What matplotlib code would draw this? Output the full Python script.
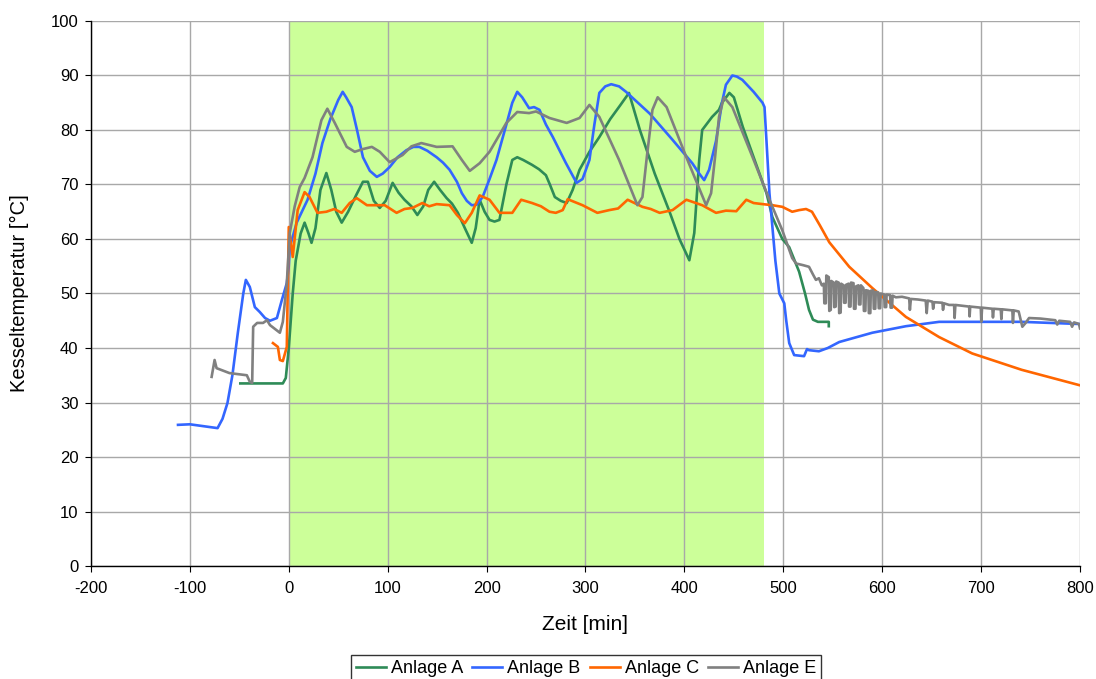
import matplotlib.pyplot as plt

plt.rcParams['font.family'] = ['Liberation Sans', 'DejaVu Sans']
plt.rcParams['axes.unicode_minus'] = False

# Anlage A (green)
a_x = [-49, -6, -3, 0, 4, 7, 12, 16, 20, 23, 27, 32, 38, 43, 48, 53.5, 60, 68, 75, 80, 86, 92, 98,
       105, 111, 117, 124, 130, 136, 141, 147, 153, 159.6, 165, 171, 178, 185, 189, 193, 198, 203,
       208, 213, 220, 226, 231, 237, 246, 253, 260, 264, 269, 275, 281, 287, 294, 304, 314, 325,
       335, 344, 355, 370, 385, 395, 405, 410, 415, 418, 428, 435, 438, 445.5, 450, 459, 470, 483,
       489, 499, 506, 516, 522, 526, 530, 535, 546, 546]
a_y = [33.5, 33.5, 34.5, 40, 50, 56, 61, 63, 61, 59.3, 62, 69, 72.1, 69, 65, 63, 65, 68, 70.5,
       70.5, 67, 65.7, 67, 70.3, 68.5, 67.2, 66, 64.4, 66, 69, 70.5, 69, 67.5, 66.5, 64.8, 62, 59.3,
       62, 67.2, 65, 63.5, 63.2, 63.5, 70, 74.5, 75, 74.5, 73.6, 72.8, 71.7, 70, 67.7, 67, 66.6, 69,
       72.7, 76, 78.7, 82, 84.5, 86.8, 80, 72, 65, 60, 56.1, 61.1, 74.5, 80, 82.4, 83.7, 85, 86.8,
       86, 80.6, 75, 68.4, 64, 60, 58.5, 54, 50, 47, 45.2, 44.8, 44.8, 44]

# Anlage B (blue)
b_x = [-112, -100, -72, -67, -62, -57, -51.5, -46, -43.4, -39.4, -34.3, -29.3, -24, -19, -12, -7,
       -2, 0, 1, 8, 19, 27, 34, 42, 50, 54.5, 58, 63.6, 69, 75, 82, 89, 95, 102, 110, 119, 126, 132,
       140, 149.5, 156, 162.6, 170, 175, 180, 185, 190, 196, 203, 210, 220, 226, 231, 236, 243, 248,
       253.5, 260, 267, 280, 291, 297, 304, 309, 314, 320, 326, 334, 341, 350, 365, 388, 408, 415,
       420, 425, 432, 438, 442, 448.5, 453, 458.6, 470, 479, 481, 483, 486, 489, 492, 496, 501, 503,
       506, 511, 521, 524, 526, 536, 545, 556.6, 590, 624, 657.6, 691, 741, 800]
b_y = [25.9, 26, 25.3, 27, 29.9, 35, 42.8, 50, 52.5, 51.2, 47.5, 46.6, 45.5, 45, 45.5, 48.8, 51.9,
       55, 58.5, 63, 67.2, 72, 77.6, 82, 85.5, 87, 86, 84.2, 80, 75, 72.5, 71.4, 72, 73.2, 75, 76.3,
       76.9, 76.9, 76.2, 75, 74, 72.7, 70.5, 68.4, 67, 66.2, 66.3, 67.7, 71, 74.5, 81, 85, 87, 86,
       84, 84.2, 83.7, 81, 78.7, 74, 70.3, 71, 74.5, 81, 86.8, 88, 88.4, 88, 87, 85.5, 83, 78.2, 73.9,
       72, 70.8, 72.7, 78, 85, 88.3, 90, 89.8, 89.2, 87, 85, 84.2, 78, 68.4, 62.2, 56, 50, 48.2, 45,
       40.9, 38.7, 38.5, 39.8, 39.6, 39.4, 40, 41.1, 42.8, 44, 44.8, 44.8, 44.8, 44.4]

# Anlage C (orange)
c_x = [-16, -11, -9, -6, -2, 0, 4, 9, 16, 21, 29, 38, 46, 53.5, 61.6, 68.7, 79, 89, 97, 109, 117,
       125, 135, 142, 149.5, 162.6, 170, 178, 185, 193, 203, 213, 226, 235, 246, 255, 263.6, 270, 277,
       282, 297, 312, 324, 333, 342.6, 357.6, 366, 375, 388, 402, 418, 432, 442, 452.5, 462.6, 470,
       479, 489, 499, 509, 516, 523, 529, 537, 546.5, 566.7, 590, 624, 657.6, 691, 741, 799]
c_y = [40.9, 40.2, 37.8, 37.6, 40.2, 62.2, 56.7, 65.3, 68.6, 67.7, 64.8, 65, 65.5, 64.8, 66.6, 67.5,
       66.2, 66.2, 66.2, 64.8, 65.5, 65.7, 66.6, 66, 66.4, 66.2, 64.4, 62.9, 64.8, 68, 67.2, 64.8,
       64.8, 67.2, 66.6, 66, 65, 64.8, 65.3, 67.3, 66.2, 64.8, 65.3, 65.6, 67.2, 65.9, 65.5, 64.8,
       65.3, 67.2, 66.2, 64.8, 65.2, 65.1, 67.2, 66.6, 66.4, 66.2, 65.9, 65, 65.3, 65.5, 65, 62.5,
       59.4, 54.9, 51, 45.7, 42, 39, 36, 33.2]

# Anlage E (grey) as (time, temperature) pairs
e_pts = [(-78, 34.7), (-75, 37.8), (-73, 36.3), (-60, 35.4), (-42.4, 35), (-39.4, 33.8),
         (-37, 33.6), (-36, 43.9), (-32, 44.6), (-26, 44.6), (-22, 45.1), (-19, 44.2), (-9, 42.8),
         (-6, 44.8), (-2, 51.9), (1, 61.1), (6, 66), (11, 69.5), (16, 71.2), (24, 75), (33, 81.8),
         (39, 83.9), (46.5, 81.3), (58.6, 76.9), (66.7, 76), (75, 76.5), (84, 76.9), (92, 76),
         (102, 74.1), (115, 75.4), (124, 77), (134, 77.6), (149.5, 76.9), (165.6, 77), (175, 74.5),
         (183, 72.5), (193, 73.9), (203, 76), (220, 81.3), (231, 83.3), (243, 83.1), (250, 83.4),
         (263.6, 82.2), (281, 81.3), (294, 82.2), (304, 84.6), (314, 82.4), (334, 74.5),
         (352.5, 66.2), (357.6, 67.7), (362, 75), (367.7, 83.7), (373, 86), (382, 84.2), (402, 75),
         (422, 66.2), (427, 68.4), (431, 75), (435, 82.4), (440, 86), (448.5, 84.2), (469, 75),
         (486, 67.2), (499, 61.6), (509, 56.5), (513, 55.5), (520, 55.2), (526, 54.9),
         (530, 53.5), (533, 52.5), (536, 52.8), (539, 51.5), (541, 51.8), (541.5, 48.2),
         (543, 48.2), (543.5, 53.3), (546, 53), (546.5, 46.8), (548, 47), (548.5, 52.3),
         (551, 52), (551.5, 47.5), (553, 47.6), (553.5, 52.2), (556, 52), (556.5, 46.4),
         (558, 46.5), (558.5, 51.8), (561, 51.5), (561.5, 48.3), (563, 48.3), (563.5, 51.6),
         (566, 51.8), (566.5, 47.6), (568, 47.6), (568.5, 52), (571, 51.9), (571.5, 47.2),
         (573, 47.2), (573.5, 51.3), (576, 51.5), (576.5, 48), (578, 48), (578.5, 51.5),
         (581, 51), (581.5, 46.8), (583, 46.8), (583.5, 50.6), (586, 50.5), (586.5, 46.4),
         (588, 46.4), (588.5, 50.5), (591, 50.6), (591.5, 47.2), (593, 47.2), (593.5, 50.3),
         (596, 50.2), (596.5, 47.3), (598, 47.3), (598.5, 50), (602, 49.8), (602.5, 47.5),
         (604, 47.5), (604.5, 49.8), (608, 49.7), (608.5, 47.4), (610, 47.4), (610.5, 49.6),
         (613.8, 49.3), (620, 49.4),
         (627.3, 49.1), (628, 47), (629, 49), (636, 48.9), (644, 48.7), (645, 46.4), (646, 48.7),
         (650.8, 48.5), (651.5, 47.2), (652.5, 48.4), (660.9, 48.3), (661.5, 47), (662.5, 48.2),
         (667.7, 47.9), (672.7, 47.9), (673.2, 45.5), (674, 47.9), (687.9, 47.6), (688.4, 45.8),
         (689, 47.6), (699.7, 47.4), (700.2, 44.8), (701, 47.4), (711.4, 47.2), (712, 45.6),
         (712.8, 47.2), (719.9, 47.1), (720.5, 45.3), (721.2, 47.1), (731.6, 46.9), (732.2, 44.6),
         (733, 46.9), (738, 46.7), (741.7, 43.9), (745, 44.6), (748.5, 45.5), (760, 45.4),
         (775, 45.1), (777, 44.3), (779, 45), (790, 44.8), (792, 43.9), (794, 44.7), (799, 44.4),
         (800, 43.6)]
e_x = [p[0] for p in e_pts]
e_y = [p[1] for p in e_pts]

fig = plt.figure(figsize=(10.96, 6.79), dpi=100)
ax = fig.add_axes([0.083, 0.1664, 0.9024, 0.8027])

ax.axvspan(0, 480, color='#CCFF99', zorder=0, lw=0)

lw = 1.9
ax.plot(a_x, a_y, color='#2E8B57', lw=lw, label='Anlage A', zorder=3)
ax.plot(b_x, b_y, color='#3366FF', lw=lw, label='Anlage B', zorder=3)
ax.plot(c_x, c_y, color='#FF6600', lw=lw, label='Anlage C', zorder=3)
ax.plot(e_x, e_y, color='#808080', lw=lw, label='Anlage E', zorder=3)

ax.set_xlim(-200, 800)
ax.set_ylim(0, 100)
ax.set_xticks(range(-200, 801, 100))
ax.set_yticks(range(0, 101, 10))
ax.grid(True, color='#A8A8A8', lw=1.0, zorder=1)
ax.set_axisbelow(True)

for s in ['top', 'right']:
    ax.spines[s].set_visible(False)
for s in ['left', 'bottom']:
    ax.spines[s].set_color('black')
    ax.spines[s].set_linewidth(1.0)
    ax.spines[s].set_zorder(4)

ax.tick_params(direction='out', length=4, labelsize=12, colors='black')
ax.tick_params(axis='x', pad=7)
ax.tick_params(axis='y', pad=5)

# axis titles placed in figure pixels like the reference
fig.text(585.5 / 1096, 1 - 624 / 679, 'Zeit [min]', fontsize=15, ha='center', va='center')
fig.text(19 / 1096, 1 - 293 / 679, 'Kesseltemperatur [°C]', fontsize=14.5, rotation=90,
         ha='center', va='center')

fig.legend(loc='upper center', bbox_to_anchor=(0.5347, 1 - 655 / 679), ncol=4,
           fontsize=13, frameon=True, fancybox=False, edgecolor='black', borderaxespad=0,
           handlelength=1.66, columnspacing=0.5, handletextpad=0.28, borderpad=0.3)

fig.savefig('out.png', dpi=100)
